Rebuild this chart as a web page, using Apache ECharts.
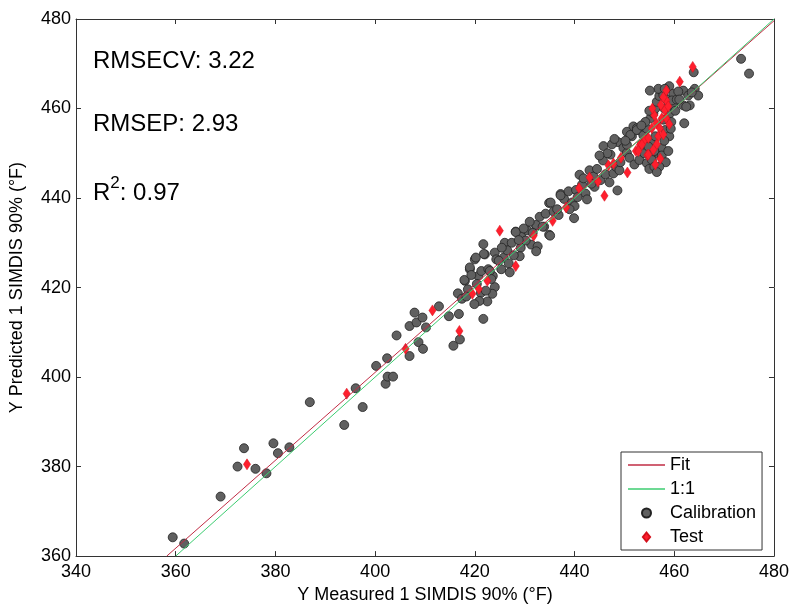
<!DOCTYPE html>
<html>
<head>
<meta charset="utf-8">
<script src="https://cdn.jsdelivr.net/npm/echarts@6/dist/echarts.min.js"></script>
<style>
  html, body { margin: 0; padding: 0; background: #fff; }
  #chart { width: 792px; height: 609px; }
</style>
</head>
<body>
<div id="chart"></div>
<script>
const FONT = "'Liberation Sans', Arial, sans-serif";

// axis ranges and ticks
const xTicks = [340, 360, 380, 400, 420, 440, 460, 480];
const yTicks = [360, 380, 400, 420, 440, 460, 480];

// reference lines
const fitLine = [[358.2, 360], [480, 479.6]];
const oneToOne = [[360, 360], [480, 480]];

// calibration samples [measured, predicted]
const calibration = [
  [359.4, 364.2], [361.7, 362.8], [369.0, 373.3], [372.4, 380.0], [373.7, 384.1],
  [376.0, 379.5], [378.2, 378.5], [379.6, 385.2], [380.5, 383.0], [382.8, 384.3],
  [386.9, 394.4], [393.8, 389.3], [396.1, 397.5], [397.5, 393.3],
  [400.2, 402.5], [402.4, 404.2], [402.1, 398.5], [402.5, 400.1], [403.6, 400.1],
  [404.3, 409.3], [406.9, 404.7], [406.9, 411.4], [407.9, 414.4], [408.3, 412.2],
  [409.5, 413.3], [410.2, 411.1], [408.7, 407.8], [409.6, 406.3], [412.8, 415.8],
  [414.8, 413.6], [416.8, 414.1], [415.7, 407.0], [417.0, 408.4], [416.6, 418.7],
  [417.4, 417.5],
  [418.0, 421.5], [419.0, 424.1], [420.0, 426.3], [420.7, 422.6], [421.3, 423.7],
  [422.0, 427.4], [422.7, 424.1], [424.0, 427.8], [424.3, 426.3], [423.6, 422.6],
  [424.0, 420.1], [423.5, 418.6], [422.5, 416.9], [421.7, 413.0], [421.7, 429.7],
  [421.8, 427.5], [420.2, 426.7], [419.0, 424.5], [417.9, 421.7], [418.6, 419.6],
  [419.3, 422.8], [420.4, 420.8], [421.2, 418.8], [420.9, 417.0], [419.9, 416.3],
  [422.2, 419.3], [423.0, 423.7], [423.3, 421.9], [418.3, 418.0],
  [426.0, 430.0], [427.4, 430.0], [428.2, 432.5], [429.3, 431.4], [429.2, 428.9],
  [429.0, 427.0], [425.8, 426.7], [424.8, 426.0], [426.8, 425.4], [427.0, 423.4],
  [425.3, 424.1], [432.3, 433.8], [433.9, 433.6], [431.3, 429.6], [432.6, 429.2],
  [432.3, 428.1], [434.9, 431.8], [434.9, 438.9], [428.2, 432.4], [432.3, 434.0],
  [433.6, 433.6], [435.1, 431.6], [430.5, 432.8], [431.0, 434.7], [429.8, 433.2],
  [433.0, 435.8], [426.5, 428.3], [427.8, 427.2], [430.2, 430.5], [434.2, 436.5],
  [435.8, 437.0], [428.8, 430.6], [431.6, 432.2], [425.4, 428.9], [436.8, 436.2],
  [435.2, 439.0], [437.2, 440.9], [437.9, 439.8], [437.2, 440.6], [439.9, 435.5],
  [441.0, 445.2], [445.8, 451.6], [448.7, 452.5], [448.6, 441.7], [445.7, 448.4],
  [447.2, 449.7], [449.8, 451.2], [450.5, 450.1], [436.5, 437.5], [438.8, 441.5],
  [439.5, 439.0], [440.3, 441.8], [441.5, 443.0], [442.2, 441.0], [443.0, 446.2],
  [443.8, 444.8], [444.5, 446.5], [445.2, 444.0], [446.2, 445.3], [447.0, 443.5],
  [447.8, 445.5], [448.3, 447.0], [449.0, 446.2], [444.0, 442.5], [442.5, 439.7],
  [440.0, 438.2], [439.0, 437.5], [446.6, 450.0], [447.5, 452.0], [448.0, 453.2],
  [449.2, 448.0], [445.0, 449.5], [441.8, 444.4], [443.4, 443.2], [440.6, 440.2],
  [450.5, 451.9], [451.5, 453.8], [451.8, 456.0], [452.8, 455.2], [450.5, 454.8],
  [452.5, 455.6], [451.0, 449.0], [452.0, 447.5], [453.0, 448.5], [451.2, 454.1],
  [452.5, 455.2], [450.2, 452.8],
  [453.5, 452.0], [454.0, 450.0], [454.5, 447.8], [455.0, 446.5], [455.5, 448.5],
  [456.0, 447.0], [453.8, 454.0], [454.5, 455.5], [455.2, 457.8], [455.8, 458.9],
  [456.2, 460.0], [455.0, 459.5], [456.5, 461.5], [457.0, 462.8], [457.5, 464.0],
  [454.2, 457.0], [453.4, 456.2], [456.8, 449.9], [457.5, 451.2], [456.0, 450.5],
  [455.3, 452.5], [456.2, 453.8], [454.8, 451.5],
  [457.8, 463.0], [458.5, 464.5], [459.0, 465.0], [459.8, 463.3], [459.1, 458.9],
  [459.4, 457.0], [459.8, 460.7], [458.5, 462.0], [459.5, 461.8], [458.2, 455.2],
  [459.0, 453.8], [458.0, 452.8], [457.5, 449.5], [458.3, 448.0], [457.0, 447.0],
  [456.5, 445.8], [460.2, 459.5], [460.5, 462.0], [458.8, 450.5], [459.3, 455.5],
  [457.8, 457.5], [458.0, 460.0], [456.8, 464.4], [458.1, 464.4], [455.1, 464.0],
  [461.8, 464.0], [462.8, 462.9], [464.1, 464.4], [464.8, 462.9], [461.8, 460.7],
  [463.1, 460.7], [462.4, 460.4], [462.0, 456.7], [460.8, 463.8], [463.9, 468.1],
  [461.0, 462.0], [463.5, 463.6],
  [473.4, 471.1], [475.0, 467.8]
];

// test samples [measured, predicted]
const test = [
  [374.3, 380.5], [394.3, 396.3], [406.1, 406.3], [411.5, 414.9], [416.9, 410.3],
  [419.5, 418.6], [420.8, 419.7], [422.5, 421.5], [425.0, 432.7], [428.2, 424.8],
  [431.8, 431.6], [435.6, 434.9], [438.3, 437.9], [440.9, 442.2], [443.0, 444.6],
  [444.7, 443.7], [446.0, 440.5], [446.8, 447.3], [447.8, 447.7], [449.3, 449.0],
  [450.6, 445.7], [452.3, 450.5], [453.1, 451.9], [454.1, 453.0], [454.6, 449.6],
  [461.1, 466.0], [463.7, 469.3], [458.4, 464.0], [458.4, 461.8], [458.1, 459.6],
  [457.5, 457.8], [456.4, 456.7], [457.1, 455.6], [455.5, 455.6], [458.4, 457.8],
  [456.8, 453.8], [454.8, 453.4], [453.5, 451.9], [452.8, 450.5], [454.8, 449.7],
  [457.8, 462.5], [458.8, 460.5], [457.3, 460.8], [456.0, 458.5], [459.0, 456.5],
  [457.8, 454.2], [456.5, 452.0], [455.8, 450.8], [457.2, 448.8], [456.2, 447.5],
  [455.6, 460.0]
];

const DIAMOND = "path://M4,0L8,5L4,10L0,5Z";
const LINE_ICON = "path://M0,0H37V1.5H0Z";

const chart = echarts.init(document.getElementById("chart"), null, { renderer: "canvas" });

const axisColor = "#333333";
const baseAxis = {
  type: "value",
  interval: 20,
  axisLine: { show: true, onZero: false, lineStyle: { color: axisColor, width: 1 } },
  axisTick: { show: true, inside: true, length: 5, lineStyle: { color: axisColor } },
  splitLine: { show: false },
};

const option = {
  backgroundColor: "#ffffff",
  animation: false,
  textStyle: { fontFamily: FONT },
  grid: { left: 71, right: 17, top: 19, bottom: 44, containLabel: false },
  xAxis: [
    {
      ...baseAxis,
      min: xTicks[0],
      max: xTicks[xTicks.length - 1],
      position: "bottom",
      axisLabel: { color: "#000", fontSize: 18, fontFamily: FONT, margin: 7 },
      name: "Y Measured 1 SIMDIS 90% (°F)",
      nameLocation: "middle",
      nameGap: 26,
      nameTextStyle: { color: "#000", fontSize: 18, fontFamily: FONT },
    },
    {
      ...baseAxis,
      min: xTicks[0],
      max: xTicks[xTicks.length - 1],
      position: "top",
      axisLabel: { show: false },
    },
  ],
  yAxis: [
    {
      ...baseAxis,
      min: yTicks[0],
      max: yTicks[yTicks.length - 1],
      position: "left",
      axisLabel: { color: "#000", fontSize: 18, fontFamily: FONT, margin: 5 },
      name: "Y Predicted 1 SIMDIS 90% (°F)",
      nameLocation: "middle",
      nameGap: 50,
      nameTextStyle: { color: "#000", fontSize: 18, fontFamily: FONT },
    },
    {
      ...baseAxis,
      min: yTicks[0],
      max: yTicks[yTicks.length - 1],
      position: "right",
      axisLabel: { show: false },
    },
  ],
  legend: {
    orient: "vertical",
    left: 621,
    top: 452,
    padding: [4, 6, 4, 7],
    itemGap: 6,
    itemWidth: 37,
    itemHeight: 9,
    backgroundColor: "#ffffff",
    borderColor: "#333333",
    borderWidth: 1,
    textStyle: { color: "#000", fontSize: 18, fontFamily: FONT, lineHeight: 18 },
    data: [
      { name: "Fit", icon: LINE_ICON },
      { name: "1:1", icon: LINE_ICON },
      { name: "Calibration", icon: "circle" },
      { name: "Test", icon: DIAMOND },
    ],
  },
  graphic: [
    {
      type: "text", left: 93, top: 49,
      style: { text: "RMSECV: 3.22", fontSize: 24, fontFamily: FONT, fill: "#000" },
    },
    {
      type: "text", left: 93, top: 112,
      style: { text: "RMSEP: 2.93", fontSize: 24, fontFamily: FONT, fill: "#000" },
    },
    {
      type: "text", left: 93, top: 175,
      style: {
        text: "{r|R}{s|2}{r|: 0.97}",
        fontFamily: FONT,
        fill: "#000",
        rich: {
          r: { fontSize: 24, lineHeight: 30, verticalAlign: "bottom", fontFamily: FONT },
          s: { fontSize: 17, lineHeight: 30, verticalAlign: "top", fontFamily: FONT },
        },
      },
    },
  ],
  series: [
    {
      name: "Fit",
      type: "line",
      data: fitLine,
      symbol: "none",
      lineStyle: { color: "#c02c44", width: 1 },
      itemStyle: { color: "#c02c44" },
      silent: true,
    },
    {
      name: "1:1",
      type: "line",
      data: oneToOne,
      symbol: "none",
      lineStyle: { color: "#3ccc70", width: 1 },
      itemStyle: { color: "#3ccc70" },
      silent: true,
    },
    {
      name: "Calibration",
      type: "scatter",
      data: calibration,
      symbol: "circle",
      symbolSize: 9,
      itemStyle: { color: "#606060", borderColor: "#222222", borderWidth: 0.8, opacity: 1 },
    },
    {
      name: "Test",
      type: "scatter",
      data: test,
      symbol: DIAMOND,
      symbolKeepAspect: true,
      symbolSize: [9, 11],
      itemStyle: { color: "#ff1f2d", borderColor: "#d4101c", borderWidth: 0.5, opacity: 1 },
    },
  ],
};

chart.setOption(option);
</script>
</body>
</html>
